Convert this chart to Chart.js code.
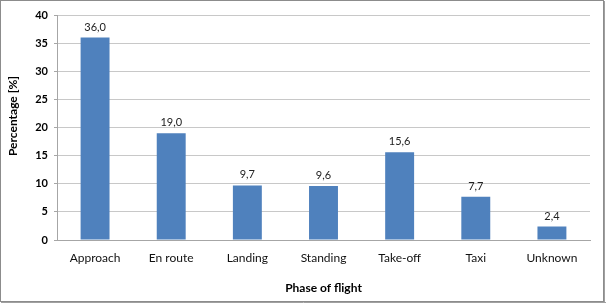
<!DOCTYPE html>
<html>
<head>
<meta charset="utf-8">
<script src="https://cdn.jsdelivr.net/npm/chart.js@4/dist/chart.umd.min.js"></script>
<style>
  html, body { margin: 0; padding: 0; background: #fff; }
  #wrap { width: 606px; height: 303px; position: relative; }
</style>
</head>
<body>
<div id="wrap"><canvas id="chart" width="606" height="303"></canvas></div>
<script>
// chart data
const phases = ['Approach', 'En route', 'Landing', 'Standing', 'Take-off', 'Taxi', 'Unknown'];
const percentages = [36.0, 19.0, 9.7, 9.6, 15.6, 7.7, 2.4];
const yTicks = [0, 5, 10, 15, 20, 25, 30, 35, 40];
const yTitle = 'Percentage [%]';

const FONT = 'Lato, Carlito, "Liberation Sans", sans-serif';

// draws value labels above bars (comma decimal), the y title and the outer frame
const labelsAndFrame = {
    id: 'labelsAndFrame',
    afterDatasetsDraw(chart) {
        const ctx = chart.ctx;
        const meta = chart.getDatasetMeta(0);
        ctx.save();
        ctx.font = '11px ' + FONT;
        ctx.fillStyle = '#222';
        ctx.textAlign = 'center';
        ctx.textBaseline = 'bottom';
        meta.data.forEach((bar, i) => {
            const txt = percentages[i].toFixed(1).replace('.', ',');
            ctx.fillText(txt, bar.x, bar.y - 5);
        });
        ctx.restore();
    },
    afterDraw(chart) {
        const ctx = chart.ctx;
        ctx.save();
        // y axis title, sits a little above the plot centre like the original
        ctx.translate(13, 116);
        ctx.rotate(-Math.PI / 2);
        ctx.font = 'bold 12px ' + FONT;
        ctx.fillStyle = '#000';
        ctx.textAlign = 'center';
        ctx.textBaseline = 'middle';
        ctx.fillText(yTitle, 0, 0);
        ctx.restore();

        ctx.save();
        ctx.strokeStyle = '#8c8c8c';
        ctx.lineWidth = 1;
        ctx.strokeRect(0.5, 0.5, 603, 301);
        ctx.strokeStyle = '#a0a0a0';
        ctx.beginPath();
        ctx.moveTo(604.5, 1); ctx.lineTo(604.5, 303);
        ctx.moveTo(1, 302.5); ctx.lineTo(606, 302.5);
        ctx.stroke();
        ctx.restore();
    }
};

new Chart(document.getElementById('chart'), {
    type: 'bar',
    data: {
        labels: phases,
        datasets: [{
            data: percentages,
            backgroundColor: '#4F81BD',
            borderWidth: 0,
            barPercentage: 0.38,
            categoryPercentage: 1.0
        }]
    },
    options: {
        responsive: false,
        animation: false,
        devicePixelRatio: 1,
        layout: { padding: { left: 5, right: 16, top: 15, bottom: 8 } },
        plugins: {
            legend: { display: false },
            tooltip: { enabled: false }
        },
        scales: {
            x: {
                grid: { display: false, drawTicks: false },
                border: { color: '#a6a6a6' },
                ticks: {
                    color: '#111',
                    font: { family: FONT, size: 12 },
                    padding: 11,
                    maxRotation: 0
                },
                title: {
                    display: true,
                    text: 'Phase of flight',
                    color: '#000',
                    font: { family: FONT, size: 12, weight: 'bold' },
                    padding: { top: 10, bottom: 0 }
                },
                afterFit(scale) { scale.height = 55; }
            },
            y: {
                min: 0,
                max: 40,
                afterBuildTicks(scale) { scale.ticks = yTicks.map(v => ({ value: v })); },
                grid: { color: '#c8c8c8', tickLength: 3, tickColor: '#a6a6a6' },
                border: { color: '#a6a6a6' },
                ticks: {
                    color: '#000',
                    font: { family: FONT, size: 11, weight: 'bold' },
                    padding: 6
                },
                afterFit(scale) { scale.width = 52; }
            }
        }
    },
    plugins: [labelsAndFrame]
});
</script>
</body>
</html>
